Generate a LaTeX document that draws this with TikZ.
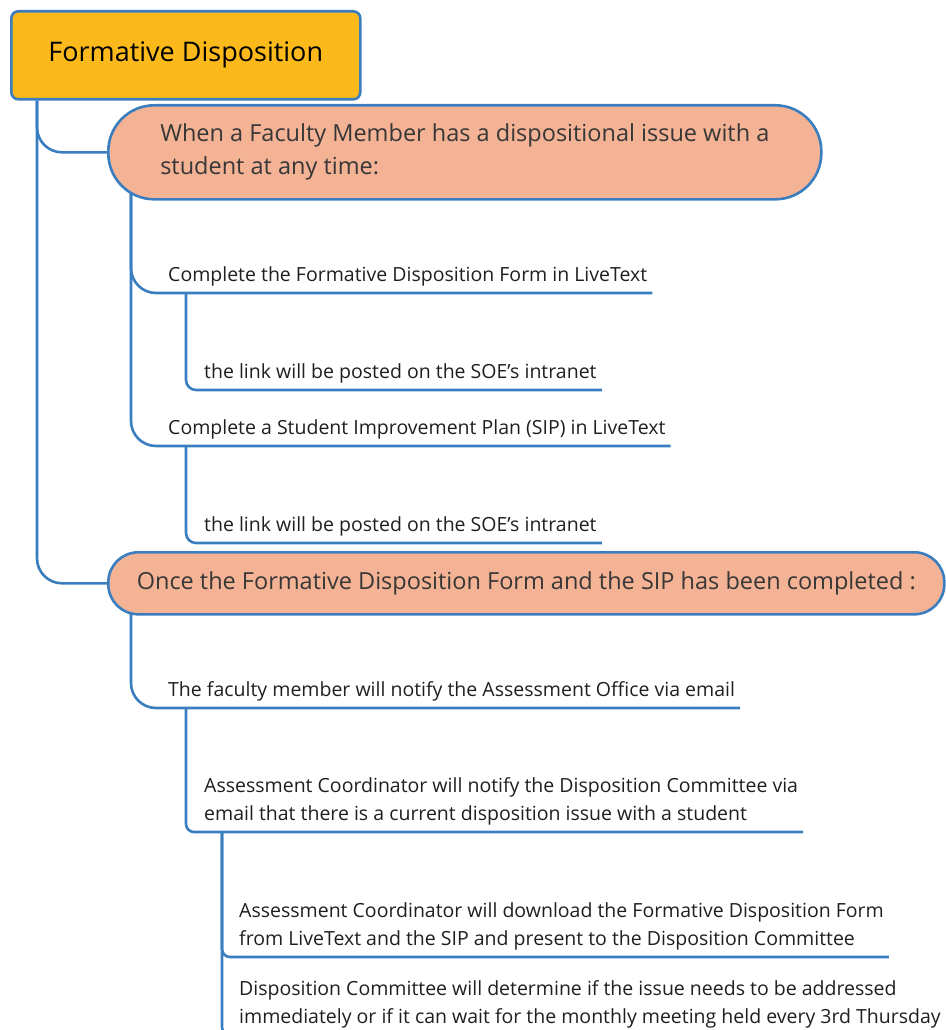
\documentclass[tikz,border=0pt]{standalone}
\usepackage{fontspec}
\setmainfont{Open Sans}
\usetikzlibrary{backgrounds}

\definecolor{linkblue}{RGB}{58,126,192}
\definecolor{rootfill}{RGB}{251,185,27}
\definecolor{mainfill}{RGB}{245,179,150}
\definecolor{maintext}{RGB}{55,55,55}

\tikzset{
    root/.style={draw=linkblue, line width=2.6pt, fill=rootfill, rounded corners=7pt,
        anchor=north west, minimum width=349pt, minimum height=88pt,
        font=\fontsize{27}{32}\selectfont},
    maintopic/.style={draw=linkblue, line width=2.6pt, fill=mainfill, rounded corners=#1,
        anchor=north west, align=left, text=maintext, font=\fontsize{23.5}{33}\selectfont},
    subtopic/.style={anchor=south west, inner xsep=5pt, inner ysep=3pt, align=left,
        text=black!88, font=\fontsize{19.5}{28}\selectfont, execute at end node={\strut}},
    branch/.style={draw=linkblue, line width=2.6pt, rounded corners=#1},
}

\begin{document}
\begin{tikzpicture}[x=1pt, y=-1pt]
    \useasboundingbox (0,0) rectangle (945,1030);

    % Root
    \node[root] (root) at (10,10) {Formative Disposition};

    % Main topics
    \node[maintopic=46pt, minimum width=713pt, minimum height=94pt] (m1) at (107,104)
        {When a Faculty Member has a dispositional issue with a\\student at any time:};
    \node[maintopic=30pt, minimum width=836pt, minimum height=62pt] (m2) at (107,551)
        {Once the Formative Disposition Form and the SIP has been completed :};

    % Subtopics
    \node[subtopic] (t1) at (163,293) {Complete the Formative Disposition Form in LiveText};
    \node[subtopic] (l1) at (199,390) {the link will be posted on the SOE's intranet};
    \node[subtopic] (t2) at (163,446) {Complete a Student Improvement Plan (SIP) in LiveText};
    \node[subtopic] (l2) at (199,543) {the link will be posted on the SOE's intranet};

    \node[subtopic] (t3) at (163,708) {The faculty member will notify the Assessment Office via email};
    \node[subtopic] (t4) at (199,832) {Assessment Coordinator will notify the Disposition Committee via\\email that there is a current disposition issue with a student};
    \node[subtopic] (t5) at (234,957) {Assessment Coordinator will download the Formative Disposition Form\\from LiveText and the SIP and present to the Disposition Committee};
    \node[subtopic] (t6) at (234,1035) {Disposition Committee will determine if the issue needs to be addressed\\immediately or if it can wait for the monthly meeting held every 3rd Thursday};

    % Branches
    \begin{scope}[on background layer]
        \draw[branch=25pt] ([xshift=27pt]root.south west) |- (m1.west);
        \draw[branch=25pt] ([xshift=27pt]root.south west) |- (m2.west);

        \draw[branch=25pt] ([xshift=24pt, yshift=10pt]m1.south west) |- (t1.south east);
        \draw[branch=25pt] ([xshift=24pt, yshift=10pt]m1.south west) |- (t2.south east);
        \draw[branch=10pt] ([xshift=23pt]t1.south west) |- (l1.south east);
        \draw[branch=10pt] ([xshift=23pt]t2.south west) |- (l2.south east);

        \draw[branch=25pt] ([xshift=24pt, yshift=5pt]m2.south west) |- (t3.south east);
        \draw[branch=8pt] ([xshift=23pt]t3.south west) |- (t4.south east);
        \draw[branch=8pt] ([xshift=23pt]t4.south west) |- (t5.south east);
        \draw[branch=8pt] ([xshift=23pt]t4.south west) |- (t6.south east);
    \end{scope}
\end{tikzpicture}
\end{document}
